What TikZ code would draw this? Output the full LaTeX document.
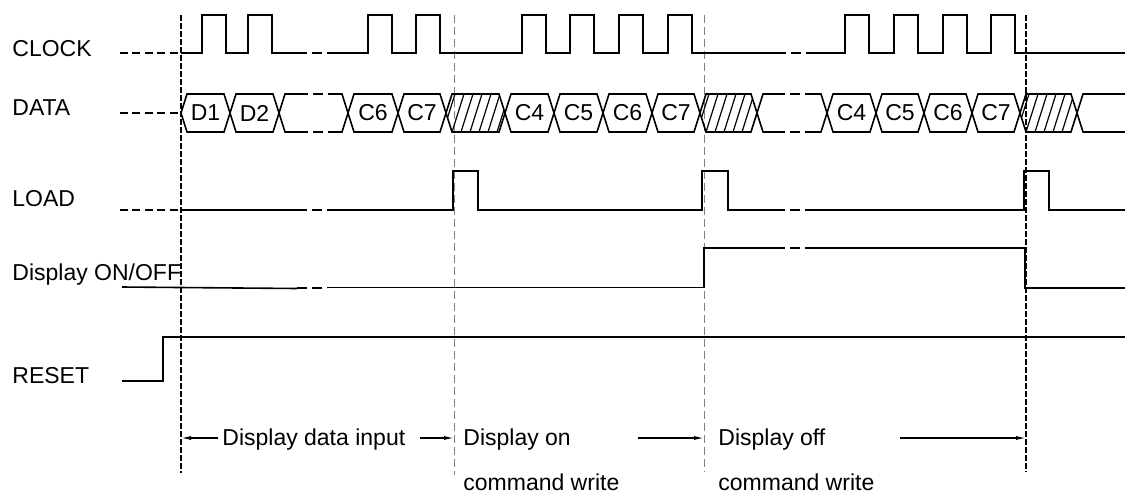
\documentclass[tikz,border=0pt]{standalone}
\usepackage{fontspec}
\setmainfont{Liberation Sans}
\usetikzlibrary{arrows.meta, positioning}

\tikzset{
  sig/.style={line width=0.8pt},
  gap/.style={line width=0.8pt, dash pattern=on 5pt off 2.5pt},
  lead/.style={line width=0.7pt, dash pattern=on 4pt off 2.2pt},
  bnd/.style={line width=1.2pt, dash pattern=on 3pt off 1pt},
  sep/.style={line width=0.4pt, gray, dash pattern=on 4pt off 2pt},
  lbl/.style={anchor=base west, inner sep=0pt},
  arr/.style={line width=0.6pt, -{Latex[length=5pt,width=2pt]}},
  hatch/.style={line width=0.6pt},
}

\begin{document}
\begin{tikzpicture}[x=0.5pt, y=-0.5pt, font=\fontsize{11.5}{13}\selectfont]
    \useasboundingbox (0,0) rectangle (1125,494);

    % signal names
    \node[lbl] (clk) at (12,56.5) {CLOCK};
    \node[lbl] (dat) at (12,115.5) {DATA};
    \node[lbl] (ld) at (12,206) {LOAD};
    \node[lbl] (dsp) at (12,280) {Display ON/OFF};
    \node[lbl] (rst) at (12,383) {RESET};

    % boundaries
    \draw[bnd] (181,15) -- (181,473);
    \draw[sep] (454,15) -- (454,475);
    \draw[sep] (704,15) -- (704,472);
    \draw[bnd] (1026,15) -- (1026,472);

    % CLOCK
    \draw[lead] (120,53) -- (181,53);
    \draw[sig] (181,53) \foreach \r in {202,248} { -- (\r,53) -- (\r,15) -- (\r+24,15) -- (\r+24,53) } -- (297,53);
    \draw[gap] (297,53) -- (327,53);
    \draw[sig] (327,53) \foreach \r in {368,416,522,570,619,668} { -- (\r,53) -- (\r,15) -- (\r+24,15) -- (\r+24,53) } -- (776,53);
    \draw[gap] (776,53) -- (806,53);
    \draw[sig] (806,53) \foreach \r in {845,894,943,991} { -- (\r,53) -- (\r,15) -- (\r+24,15) -- (\r+24,53) } -- (1125,53);

    % DATA
    \draw[lead] (120,113) -- (181,113);
    \foreach \a/\b/\t [count=\i] in {181/230/D1, 230/279/D2, 348/398/C6, 398/446/C7,
        505/554/C4, 554/603/C5, 603/652/C6, 652/700/C7,
        827/876/C4, 876/924/C5, 924/972/C6, 972/1020/C7} {
      \draw[sig] (\a,113) -- (\a+6,94) -- (\b-6,94) -- (\b,113) -- (\b-6,132) -- (\a+6,132) -- cycle;
      \node (d\i) at ({(\a+\b)/2},113) {\t};
    }
    \foreach \a/\b in {446/505, 700/757, 1020/1077} {
      \draw[sig] (\a,113) -- (\a+6,94) -- (\b-6,94) -- (\b,113) -- (\b-6,132) -- (\a+6,132) -- cycle;
      \begin{scope}
        \clip (\a,113) -- (\a+6,94) -- (\b-6,94) -- (\b,113) -- (\b-6,132) -- (\a+6,132) -- cycle;
        \foreach \k in {0,...,7}
          \draw[hatch] (\a-3+9*\k,132) -- ++(12,-38);
      \end{scope}
    }
    \foreach \a/\b/\p/\q in {279/348/298/330, 757/827/775/806} {
      \draw[sig] (\p,94) -- (\a+6,94) -- (\a,113) -- (\a+6,132) -- (\p,132);
      \draw[sig] (\q,94) -- (\b-6,94) -- (\b,113) -- (\b-6,132) -- (\q,132);
      \draw[gap] (\p,94) -- (\q,94) (\p,132) -- (\q,132);
    }
    \draw[sig] (1125,94) -- (1083,94) -- (1077,113) -- (1083,132) -- (1125,132);

    % LOAD
    \draw[lead] (120,210) -- (181,210);
    \draw[sig] (181,210) -- (297,210);
    \draw[gap] (297,210) -- (327,210);
    \draw[sig] (327,210) -- (453,210) -- (453,171) -- (478,171) -- (478,210)
      -- (702,210) -- (702,171) -- (728,171) -- (728,210) -- (775,210);
    \draw[gap] (775,210) -- (806,210);
    \draw[sig] (806,210) -- (1024,210) -- (1024,171) -- (1049,171) -- (1049,210) -- (1125,210);

    % Display ON/OFF
    \draw[sig] (122,287) -- (297,288.5);
    \draw[gap] (297,288) -- (327,288);
    \draw[sig] (327,287.5) -- (704,287.5) -- (704,248) -- (775,248);
    \draw[gap] (775,248) -- (806,248);
    \draw[sig] (806,248) -- (1025,248) -- (1025,288) -- (1125,288);

    % RESET
    \draw[sig] (122,381) -- (163,381) -- (163,337) -- (1125,337);

    % phases
    \coordinate (v1) at (181,438);
    \coordinate (v2) at (454,438);
    \coordinate (v3) at (704,438);
    \coordinate (v4) at (1026,438);
    \coordinate (s3) at (638,438);
    \coordinate (s4) at (900,438);
    \node[lbl] (pin) at (222,445) {Display data input};
    \node[lbl] (pon) at (463,445) {Display on};
    \node[lbl] (pon2) at (463,490) {command write};
    \node[lbl] (pof) at (718,445) {Display off};
    \node[lbl] (pof2) at (718,490) {command write};
    \draw[arr] ([xshift=-2pt]pin.west |- v1) -- (v1);
    \draw[arr] ([xshift=7pt]pin.east |- v2) -- (v2);
    \draw[arr] (s3) -- (v3);
    \draw[arr] (s4) -- (v4);
\end{tikzpicture}
\end{document}
